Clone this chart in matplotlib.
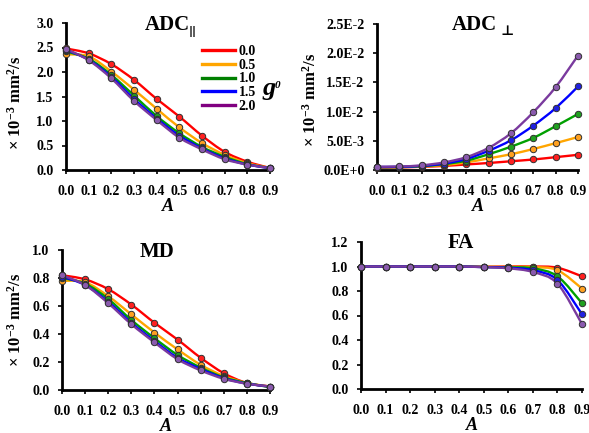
import numpy as np
import matplotlib
matplotlib.use("Agg")
import matplotlib.pyplot as plt
from matplotlib.path import Path
from matplotlib.patches import PathPatch
from matplotlib.ticker import FixedLocator, FuncFormatter

plt.rcParams['font.family'] = ['Liberation Serif', 'DejaVu Serif']
plt.rcParams['font.weight'] = 'bold'
plt.rcParams['mathtext.fontset'] = 'custom'
plt.rcParams['mathtext.rm'] = 'Liberation Serif:bold'
plt.rcParams['mathtext.bf'] = 'Liberation Serif:bold'
plt.rcParams['mathtext.it'] = 'Liberation Serif:bold:italic'

# ---------------- data ----------------
A = [0.0, 0.1, 0.2, 0.3, 0.4, 0.5, 0.6, 0.7, 0.8, 0.9]
g0_labels = ["0.0", "0.5", "1.0", "1.5", "2.0"]

adc_par = {
    "0.0": [2.48, 2.38, 2.16, 1.84, 1.45, 1.09, 0.70, 0.37, 0.17, 0.04],
    "0.5": [2.36, 2.32, 2.01, 1.64, 1.25, 0.87, 0.55, 0.31, 0.14, 0.04],
    "1.0": [2.42, 2.27, 1.94, 1.52, 1.10, 0.75, 0.47, 0.27, 0.12, 0.04],
    "1.5": [2.45, 2.25, 1.90, 1.45, 1.05, 0.70, 0.44, 0.24, 0.11, 0.04],
    "2.0": [2.47, 2.24, 1.87, 1.41, 1.02, 0.66, 0.42, 0.22, 0.11, 0.04],
}
adc_perp = {
    "0.0": [0.40e-3, 0.45e-3, 0.55e-3, 0.70e-3, 0.95e-3, 1.20e-3, 1.50e-3, 1.80e-3, 2.20e-3, 2.60e-3],
    "0.5": [0.45e-3, 0.50e-3, 0.60e-3, 0.85e-3, 1.30e-3, 2.00e-3, 2.70e-3, 3.60e-3, 4.60e-3, 5.65e-3],
    "1.0": [0.50e-3, 0.50e-3, 0.65e-3, 1.00e-3, 1.60e-3, 2.70e-3, 4.00e-3, 5.50e-3, 7.50e-3, 9.60e-3],
    "1.5": [0.50e-3, 0.55e-3, 0.70e-3, 1.10e-3, 1.90e-3, 3.30e-3, 5.10e-3, 7.60e-3, 10.6e-3, 14.3e-3],
    "2.0": [0.57e-3, 0.60e-3, 0.80e-3, 1.30e-3, 2.20e-3, 3.80e-3, 6.30e-3, 9.90e-3, 14.2e-3, 19.6e-3],
}
md = {
    "0.0": [0.82, 0.79, 0.72, 0.61, 0.48, 0.36, 0.23, 0.12, 0.05, 0.025],
    "0.5": [0.78, 0.77, 0.67, 0.54, 0.41, 0.29, 0.18, 0.10, 0.05, 0.025],
    "1.0": [0.80, 0.76, 0.65, 0.50, 0.37, 0.25, 0.16, 0.09, 0.05, 0.02],
    "1.5": [0.81, 0.75, 0.63, 0.48, 0.35, 0.23, 0.15, 0.085, 0.045, 0.025],
    "2.0": [0.82, 0.75, 0.62, 0.47, 0.34, 0.22, 0.14, 0.08, 0.045, 0.025],
}
fa = {
    "0.0": [1.0, 1.0, 1.0, 1.0, 1.0, 0.998, 1.0, 1.0, 0.99, 0.92],
    "0.5": [1.0, 1.0, 1.0, 1.0, 1.0, 0.997, 0.997, 0.995, 0.97, 0.82],
    "1.0": [1.0, 1.0, 1.0, 1.0, 1.0, 0.996, 0.993, 0.985, 0.92, 0.70],
    "1.5": [1.0, 1.0, 1.0, 1.0, 1.0, 0.995, 0.99, 0.97, 0.89, 0.61],
    "2.0": [1.0, 1.0, 1.0, 1.0, 1.0, 0.995, 0.985, 0.955, 0.86, 0.53],
}

line_colors = {"0.0": "#FF0000", "0.5": "#FFA500", "1.0": "#00A000",
               "1.5": "#0000FF", "2.0": "#7A3A9E"}
marker_colors = {"0.0": "#FF2020", "0.5": "#FFA020", "1.0": "#20A020",
                 "1.5": "#2020E0", "2.0": "#8A5AAE"}
legend_colors = {"0.0": "#FF0000", "0.5": "#FFA500", "1.0": "#008000",
                 "1.5": "#0000FF", "2.0": "#800080"}

W, H = 589, 433
fig = plt.figure(figsize=(W / 100, H / 100), dpi=100)


def px_axes(x0, y0, x1, y1):
    return fig.add_axes([x0 / W, (H - y1) / H, (x1 - x0) / W, (y1 - y0) / H])


def smooth_path(x, y):
    x = np.asarray(x, float)
    y = np.asarray(y, float)
    n = len(x)
    verts = [(x[0], y[0])]
    codes = [Path.MOVETO]
    for i in range(n - 1):
        xm = x[i - 1] if i > 0 else x[i]
        ym = y[i - 1] if i > 0 else y[i]
        xp = x[i + 2] if i + 2 < n else x[i + 1]
        yp = y[i + 2] if i + 2 < n else y[i + 1]
        c1 = (x[i] + (x[i + 1] - xm) / 6, y[i] + (y[i + 1] - ym) / 6)
        c2 = (x[i + 1] - (xp - x[i]) / 6, y[i + 1] - (yp - y[i]) / 6)
        verts += [c1, c2, (x[i + 1], y[i + 1])]
        codes += [Path.CURVE4] * 3
    return Path(verts, codes)


def style_axes(ax, ylim, yticks, yfmt):
    ax.set_xlim(0, 0.9)
    ax.set_ylim(*ylim)
    ax.xaxis.set_major_locator(FixedLocator(A))
    ax.xaxis.set_major_formatter(FuncFormatter(lambda v, p: f"{v:.1f}"))
    ax.yaxis.set_major_locator(FixedLocator(yticks))
    ax.yaxis.set_major_formatter(FuncFormatter(yfmt))
    for s in ["top", "right"]:
        ax.spines[s].set_visible(False)
    for s in ["left", "bottom"]:
        ax.spines[s].set_linewidth(2.0)
        ax.spines[s].set_color("black")
    ax.tick_params(axis="both", direction="out", length=3, width=1.2,
                   labelsize=10)
    ax.tick_params(axis="x", pad=8)
    ax.tick_params(axis="y", pad=6)
    for lab in ax.get_xticklabels() + ax.get_yticklabels():
        lab.set_fontweight("bold")
    ax.set_xlabel("A", fontsize=13, fontstyle="italic", fontweight="bold",
                  labelpad=0)
    ax.patch.set_alpha(0)


def draw_series(ax, data):
    for g in g0_labels:
        p = smooth_path(A, data[g])
        ax.add_patch(PathPatch(p, facecolor="none", edgecolor=line_colors[g],
                               lw=1.7, zorder=2, clip_on=False))
        ax.plot(A, data[g], linestyle="none", marker="o", markersize=4.6,
                markerfacecolor=marker_colors[g], markeredgecolor="#303030",
                markeredgewidth=0.7, zorder=3, clip_on=False)


ylab = r"× 10$^{-3}$ mm$^{2}$/s"

# Top-left: ADC parallel
ax1 = px_axes(66, 23, 270, 170)
draw_series(ax1, adc_par)
style_axes(ax1, (0, 3.0), [0, 0.5, 1.0, 1.5, 2.0, 2.5, 3.0],
           lambda v, p: f"{v:.1f}")
handles = [plt.Line2D([], [], color=legend_colors[g], lw=2.4) for g in g0_labels]
leg = ax1.legend(handles, g0_labels, loc="upper left",
                 bbox_to_anchor=((202 - 66) / 204, (170 - 45) / 147),
                 frameon=False, handlelength=2.4, handletextpad=0.25,
                 labelspacing=0.05, borderpad=0, borderaxespad=0,
                 prop={"family": "Liberation Serif", "weight": "bold", "size": 10})
fig.text(262 / W, 1 - 95 / H, "g", fontsize=19, fontstyle="italic",
         fontweight="bold", ha="left", va="baseline")
fig.text(275 / W, 1 - 88 / H, "0", fontsize=8, fontstyle="italic",
         fontweight="bold", ha="left", va="baseline")
fig.text(145 / W, 1 - 30 / H, "ADC", fontsize=15, fontweight="bold",
         ha="left", va="baseline")
fig.text(189 / W, 1 - 34 / H, "||", fontsize=8, fontweight="bold",
         family=["DejaVu Sans"], ha="left", va="baseline")
fig.text(16 / W, 1 - 103 / H, ylab, fontsize=12, fontweight="bold",
         rotation=90, ha="center", va="center")

# Top-right: ADC perpendicular
ax2 = px_axes(377, 24, 578, 170)
draw_series(ax2, adc_perp)


def sci_fmt(v, p):
    if abs(v) < 1e-12:
        return "0.0E+0"
    e = int(np.floor(np.log10(abs(v)) + 1e-9))
    m = v / 10 ** e
    return f"{m:.1f}E{e}"


style_axes(ax2, (0, 0.025), [0, 0.005, 0.010, 0.015, 0.020, 0.025], sci_fmt)
fig.text(452 / W, 1 - 30 / H, "ADC", fontsize=15, fontweight="bold",
         ha="left", va="baseline")
fig.text(500 / W, 1 - 35 / H, "⊥", fontsize=10, fontweight="bold",
         family=["DejaVu Serif"], ha="left", va="baseline")
fig.text(311 / W, 1 - 100 / H, ylab, fontsize=12, fontweight="bold",
         rotation=90, ha="center", va="center")

# Bottom-left: MD
ax3 = px_axes(62, 250, 270, 390)
draw_series(ax3, md)
style_axes(ax3, (0, 1.0), [0, 0.2, 0.4, 0.6, 0.8, 1.0],
           lambda v, p: f"{v:.1f}")
fig.text(157 / W, 1 - 257 / H, "MD", fontsize=15, fontweight="bold",
         ha="center", va="baseline")
fig.text(16 / W, 1 - 320 / H, ylab, fontsize=12, fontweight="bold",
         rotation=90, ha="center", va="center")

# Bottom-right: FA
ax4 = px_axes(361, 242, 582, 389)
draw_series(ax4, fa)
style_axes(ax4, (0, 1.2), [0, 0.2, 0.4, 0.6, 0.8, 1.0, 1.2],
           lambda v, p: f"{v:.1f}")
fig.text(461 / W, 1 - 248 / H, "FA", fontsize=15, fontweight="bold",
         ha="center", va="baseline")

fig.savefig("out.png", dpi=100, facecolor="white")
